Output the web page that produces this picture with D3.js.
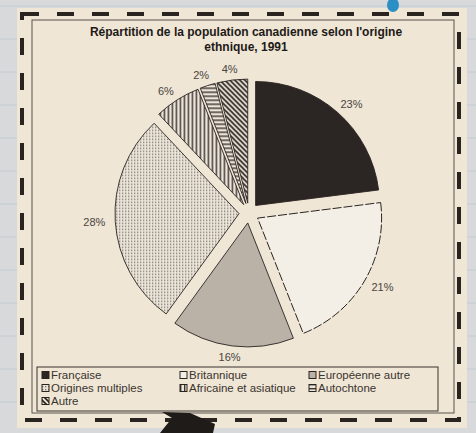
<!DOCTYPE html>
<html><head><meta charset="utf-8">
<script src="https://cdn.jsdelivr.net/npm/d3@7"></script>
<style>body{margin:0;background:#d7d9da;}svg{display:block;}</style>
</head><body>
<svg id="c" width="476" height="433"></svg>
<script>
const categories = ["Française","Britannique","Européenne autre","Origines multiples","Africaine et asiatique","Autochtone","Autre"];
const values = [23,21,16,28,6,2,4];
const labels = ["23%","21%","16%","28%","6%","2%","4%"];
const legendOrder = ["Française","Britannique","Européenne autre","Origines multiples","Africaine et asiatique","Autochtone","Autre"];
const titleLines = ["Répartition de la population canadienne selon l'origine","ethnique, 1991"];

const svg = d3.select("#c");
const defs = svg.append("defs");
const ink = "#2a2421";
const paper = "#efe6d5";

function pat(id, bg, draw, size){
  const p = defs.append("pattern").attr("id",id).attr("patternUnits","userSpaceOnUse").attr("width",size).attr("height",size);
  p.append("rect").attr("width",size).attr("height",size).attr("fill",bg);
  draw(p);
}
pat("dots","#ebe4d8",p=>{p.append("rect").attr("x",0).attr("y",0).attr("width",1.3).attr("height",1.3).attr("fill","#7a736c");},3);
pat("vlines","#ece5d9",p=>{p.append("rect").attr("x",0).attr("y",0).attr("width",1.4).attr("height",4).attr("fill","#3a332f");},4);
pat("hlines","#ece5d9",p=>{p.append("rect").attr("x",0).attr("y",0).attr("width",4).attr("height",1.4).attr("fill","#3a332f");},4);
pat("diag","#ece5d9",p=>{p.append("path").attr("d","M-1,-1 L6,6 M-1,4 L1,6 M4,-1 L6,1").attr("stroke","#2a2421").attr("stroke-width",1.6);},5);

const fills = ["#2b2523","#f4efe6","#bab1a7","url(#dots)","url(#vlines)","url(#hlines)","url(#diag)"];

// notebook lines background
const bgLines = d3.range(0, 433, 33);
svg.selectAll("line.nb").data(bgLines).join("line").attr("x1",0).attr("x2",476)
  .attr("y1",d=>d+6).attr("y2",d=>d+6).attr("stroke","#c4ccd3").attr("stroke-width",1);

// paper
svg.append("rect").attr("x",17).attr("y",8).attr("width",450).attr("height",420).attr("fill",paper);
// dashed frame
svg.append("rect").attr("x",22).attr("y",14).attr("width",437).attr("height",406)
  .attr("fill","none").attr("stroke",ink).attr("stroke-width",4).attr("stroke-dasharray","17,18");
// inner frame
svg.append("rect").attr("x",32).attr("y",20).attr("width",422).attr("height",393)
  .attr("fill","none").attr("stroke","#5a524c").attr("stroke-width",1);

// title
svg.append("g").selectAll("text").data(titleLines).join("text")
  .attr("x",246).attr("y",(d,i)=>36+i*15).attr("text-anchor","middle")
  .attr("font-family","Liberation Sans, Arial, sans-serif").attr("font-weight","bold")
  .attr("font-size",12).attr("fill","#1e1a18").text(d=>d);

// pie
const cx = 249, cy = 213, r = 124, explode = 10;
const pie = d3.pie().sort(null).value(d=>d)(values);
const arc = d3.arc().innerRadius(0).outerRadius(r);
const g = svg.append("g").attr("transform",`translate(${cx},${cy})`);
g.selectAll("path").data(pie).join("path")
  .attr("transform",d=>{const a=(d.startAngle+d.endAngle)/2;return `translate(${Math.sin(a)*explode},${-Math.cos(a)*explode})`;})
  .attr("d",arc).attr("fill",(d,i)=>fills[i])
  .attr("stroke","#2a2421").attr("stroke-width",(d,i)=>i===1?1:0.9)
  .attr("stroke-dasharray",(d,i)=>i===1?"9,2":null);

const labelRx = 155, labelRy = 145;
g.selectAll("text").data(pie).join("text")
  .attr("x",d=>{const a=(d.startAngle+d.endAngle)/2;return Math.sin(a)*labelRx;})
  .attr("y",d=>{const a=(d.startAngle+d.endAngle)/2;return -Math.cos(a)*labelRy+4;})
  .attr("text-anchor","middle").attr("font-family","Liberation Sans, Arial, sans-serif")
  .attr("font-size",11).attr("fill","#4a4440").text((d,i)=>labels[i]);

// legend
svg.append("rect").attr("x",37).attr("y",367).attr("width",401).attr("height",44)
  .attr("fill","none").attr("stroke","#3a332f").attr("stroke-width",1);
const colX = [42,180,309];
const rowY = [379,392,405];
const lg = svg.append("g").selectAll("g").data(legendOrder).join("g")
  .attr("transform",(d,i)=>`translate(${colX[i%3]},${rowY[Math.floor(i/3)]})`);
lg.append("rect").attr("x",0).attr("y",-7.5).attr("width",7).attr("height",7)
  .attr("fill",d=>fills[categories.indexOf(d)]).attr("stroke","#2a2421").attr("stroke-width",1);
lg.append("text").attr("x",9).attr("y",0).attr("font-family","Liberation Sans, Arial, sans-serif")
  .attr("font-size",11.5).attr("fill","#3a3430").text(d=>d);

// arrow shape at bottom (photo artefact)
svg.append("path").attr("d","M160,433 L172,418 L162,412 L190,413 L215,424 L213,433 Z").attr("fill","#1f1b19");
// blue pen mark
svg.append("ellipse").attr("cx",393).attr("cy",5).attr("rx",6).attr("ry",7).attr("fill","#2a8fc4");
</script>
</body></html>
